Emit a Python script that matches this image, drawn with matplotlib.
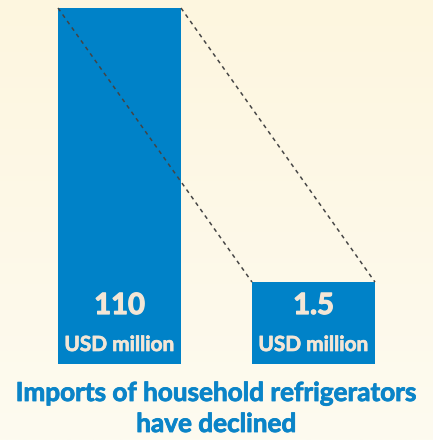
import numpy as np
import matplotlib
matplotlib.use("Agg")
import matplotlib.pyplot as plt
import matplotlib.patheffects as pe

values = [110, 1.5]
value_labels = ["110", "1.5"]
unit = "USD million"
title_lines = ["Imports of household refrigerators", "have declined"]

BLUE = "#0082C8"
CREAM = "#F3E6D6"
TITLE_BLUE = "#0A84C8"
EXP = 0.342  # compress tall bars so the small one stays readable

plt.rcParams["font.family"] = ["Lato", "DejaVu Sans"]

fig = plt.figure(figsize=(4.33, 4.40), dpi=100)

# soft cream background, a touch warmer at the top
bg = fig.add_axes([0, 0, 1, 1], zorder=-1)
grad = np.linspace(0, 1, 256).reshape(-1, 1)
cmap = matplotlib.colors.LinearSegmentedColormap.from_list("bg", ["#FEF6DF", "#FDFBF0"])
bg.imshow(grad, aspect="auto", cmap=cmap, extent=[0, 1, 0, 1])
bg.axis("off")

ax = fig.add_axes([0, 76 / 440, 1, 356 / 440])
ax.set_yscale("function", functions=(lambda v: np.sign(v) * np.abs(v) ** EXP,
                                     lambda v: np.sign(v) * np.abs(v) ** (1 / EXP)))
x = np.arange(len(values))
w = 0.634
ax.bar(x, values, width=w, color=BLUE, zorder=2)
ax.set_xlim(-0.616, 1.616)
ax.set_ylim(0, values[0])
ax.axis("off")
ax.patch.set_alpha(0)

# dashed guides joining the bar tops
for dx in (-w / 2, w / 2):
    ax.plot([x[0] + dx, x[1] + dx], [values[0], values[1]], ls=(0, (2.6, 2.6)),
            color="#444444", lw=1.1, zorder=3, clip_on=False)

heavy = [pe.withStroke(linewidth=0.9, foreground=CREAM)]
for xi, lab in zip(x, value_labels):
    ax.annotate(lab, (xi, 0), xytext=(0, 50), textcoords="offset pixels",
                ha="center", va="baseline", fontsize=21, fontweight="bold", color=CREAM,
                path_effects=heavy)
    ax.annotate(unit, (xi, 0), xytext=(0, 13), textcoords="offset pixels",
                ha="center", va="baseline", fontsize=15, fontweight="bold", color=CREAM,
                path_effects=[pe.withStroke(linewidth=0.5, foreground=CREAM)])

for ypx, line in zip((39, 8), title_lines):
    fig.text(0.5, ypx / 440, line, ha="center", va="baseline", fontsize=18.8,
             fontweight="bold", color=TITLE_BLUE,
             path_effects=[pe.withStroke(linewidth=0.6, foreground=TITLE_BLUE)])

fig.savefig("out.png", dpi=100)
